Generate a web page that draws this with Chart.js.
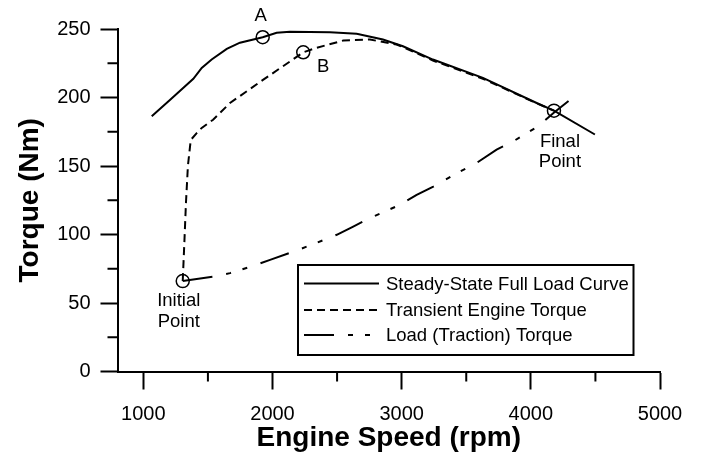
<!DOCTYPE html>
<html lang="en">
<head>
<meta charset="UTF-8">
<title>Torque vs Engine Speed</title>
<script src="https://cdn.jsdelivr.net/npm/chart.js"></script>
<style>
  html, body { margin: 0; padding: 0; background: #fff; }
</style>
</head>
<body>
<canvas id="chart" width="703" height="452"></canvas>
<script>
  // axis ticks
  const xTicks = [1000, 2000, 3000, 4000, 5000];
  const xMinorTicks = [1500, 2500, 3500, 4500];
  const yTicks = [0, 50, 100, 150, 200, 250];
  const yMinorTicks = [25, 75, 125, 175, 225];

  // steady-state full load curve
  const fullLoadSpeed  = [1065, 1210, 1387, 1452, 1529, 1646, 1748, 1924, 2032, 2135, 2445, 2652, 2855, 3010, 3242, 3629, 4045, 4179, 4496];
  const fullLoadTorque = [186.3, 198.6, 213.6, 221.6, 227.7, 235.5, 240, 244, 247.2, 248, 247.7, 246.5, 242.3, 237.4, 227.7, 214.3, 196, 190.4, 173];

  // transient engine torque
  const transientSpeed  = [1305, 1318, 1330, 1345, 1367, 1413, 1452, 1540, 1671, 1929, 2135, 2238, 2342, 2548, 2755, 2961, 3010, 3242, 3629, 4045, 4179];
  const transientTorque = [66, 95, 123, 150, 169, 174, 177.8, 183.8, 196, 213, 226.3, 233, 236.3, 241.6, 242.3, 238.7, 236.8, 227, 213.7, 195.8, 190.4];

  // load (traction) torque
  const loadSpeed  = [1305, 1542, 1671, 1851, 1981, 2200, 2316, 2497, 2625, 2755, 2987, 3116, 3245, 3451, 3580, 3735, 3864, 4057, 4180, 4320];
  const loadTorque = [66, 69.3, 71.8, 77.1, 81.5, 88.8, 93, 99.8, 105.8, 112, 121.7, 129, 135, 146, 152.2, 162, 168, 179, 189, 199.5];

  // marked points
  const markerSpeed  = [1924, 2238, 1305, 4179];
  const markerTorque = [244, 233, 66, 190.4];
  const markerLabels = [['A'], ['B'], ['Initial', 'Point'], ['Final', 'Point']];

  const seriesNames = ['Steady-State Full Load Curve', 'Transient Engine Torque', 'Load (Traction) Torque'];

  const toPoints = (xs, ys) => xs.map((v, i) => ({ x: v, y: ys[i] }));

  Chart.defaults.font.family = 'Arial, "Liberation Sans", sans-serif';
  Chart.defaults.color = '#000';

  const lineStyle = {
    showLine: true,
    borderColor: '#000',
    borderWidth: 2,
    pointRadius: 0,
    tension: 0,
    fill: false
  };

  // little outward ticks between the labelled ones
  const minorTicks = {
    id: 'minorTicks',
    afterDraw(chart) {
      const { ctx, chartArea, scales } = chart;
      ctx.save();
      ctx.strokeStyle = '#000';
      ctx.lineWidth = 2;
      ctx.beginPath();
      xMinorTicks.forEach(v => {
        const px = scales.x.getPixelForValue(v);
        ctx.moveTo(px, chartArea.bottom);
        ctx.lineTo(px, chartArea.bottom + 10);
      });
      yMinorTicks.forEach(v => {
        const py = scales.y.getPixelForValue(v);
        ctx.moveTo(chartArea.left, py);
        ctx.lineTo(chartArea.left - 10, py);
      });
      ctx.stroke();
      ctx.restore();
    }
  };

  // text next to the circles
  const pointLabels = {
    id: 'pointLabels',
    afterDraw(chart) {
      const { ctx, scales } = chart;
      const offsets = [[-2, -21, 0], [20, 15, 0], [-4, 20, 20.5], [6, 31, 20]];
      ctx.save();
      ctx.fillStyle = '#000';
      ctx.textAlign = 'center';
      ctx.textBaseline = 'middle';
      ctx.font = '18.5px Arial, "Liberation Sans", sans-serif';
      markerLabels.forEach((lines, i) => {
        const px = scales.x.getPixelForValue(markerSpeed[i]);
        const py = scales.y.getPixelForValue(markerTorque[i]);
        const [dx, dy, lh] = offsets[i];
        lines.forEach((t, j) => ctx.fillText(t, px + dx, py + dy + j * lh));
      });
      ctx.restore();
    }
  };

  // boxed legend inside the plot
  const boxLegend = {
    id: 'boxLegend',
    afterDraw(chart) {
      const { ctx } = chart;
      const bx = 298, by = 265, bw = 335.5, bh = 90;
      ctx.save();
      ctx.fillStyle = '#fff';
      ctx.fillRect(bx, by, bw, bh);
      ctx.strokeStyle = '#000';
      ctx.lineWidth = 2;
      ctx.strokeRect(bx, by, bw, bh);
      ctx.font = '18.5px Arial, "Liberation Sans", sans-serif';
      ctx.textBaseline = 'middle';
      ctx.fillStyle = '#000';
      const rows = [283.5, 310, 335];
      seriesNames.forEach((name, i) => {
        const ds = chart.data.datasets[i];
        ctx.setLineDash(ds.borderDash || []);
        ctx.beginPath();
        ctx.moveTo(304, rows[i]);
        ctx.lineTo(379, rows[i]);
        ctx.stroke();
        ctx.setLineDash([]);
        ctx.fillText(name, 386, rows[i] + 1);
      });
      ctx.restore();
    }
  };

  new Chart(document.getElementById('chart'), {
    type: 'scatter',
    data: {
      datasets: [
        Object.assign({ label: seriesNames[0], data: toPoints(fullLoadSpeed, fullLoadTorque) }, lineStyle),
        Object.assign({ label: seriesNames[1], data: toPoints(transientSpeed, transientTorque), borderDash: [8, 5] }, lineStyle),
        Object.assign({ label: seriesNames[2], data: toPoints(loadSpeed, loadTorque), borderDash: [30, 14, 5, 12, 5, 14] }, lineStyle),
        {
          label: 'points',
          data: toPoints(markerSpeed, markerTorque),
          showLine: false,
          pointRadius: 6.5,
          pointBorderWidth: 1.5,
          pointBorderColor: '#000',
          pointBackgroundColor: 'rgba(0,0,0,0)'
        }
      ]
    },
    options: {
      responsive: false,
      animation: false,
      layout: { padding: { top: 29, right: 43, left: 0, bottom: 0 } },
      plugins: { legend: { display: false }, tooltip: { enabled: false } },
      scales: {
        x: {
          type: 'linear',
          min: 800,
          max: 5000,
          afterBuildTicks: s => { s.ticks = xTicks.map(v => ({ value: v })); },
          afterFit: s => { s.height = 80.5; },
          border: { display: true, color: '#000', width: 2 },
          grid: { drawOnChartArea: false, drawTicks: true, tickLength: 18, tickWidth: 2, tickColor: '#000' },
          ticks: { font: { size: 20 }, padding: 13, maxRotation: 0, callback: v => String(v) },
          title: {
            display: true,
            text: 'Engine Speed (rpm)',
            font: { size: 28, weight: 'bold', lineHeight: 1 },
            padding: { top: 1, bottom: 0 }
          }
        },
        y: {
          type: 'linear',
          min: 0,
          max: 250,
          afterBuildTicks: s => { s.ticks = yTicks.map(v => ({ value: v })); },
          afterFit: s => { s.width = 117.5; },
          border: { display: true, color: '#000', width: 2 },
          grid: { drawOnChartArea: false, drawTicks: true, tickLength: 17, tickWidth: 2, tickColor: '#000' },
          ticks: { font: { size: 20 }, padding: 10, callback: v => String(v) },
          title: {
            display: true,
            text: 'Torque (Nm)',
            font: { size: 28, weight: 'bold', lineHeight: 1 },
            padding: { top: 16, bottom: 0 }
          }
        }
      }
    },
    plugins: [minorTicks, pointLabels, boxLegend]
  });
</script>
</body>
</html>
